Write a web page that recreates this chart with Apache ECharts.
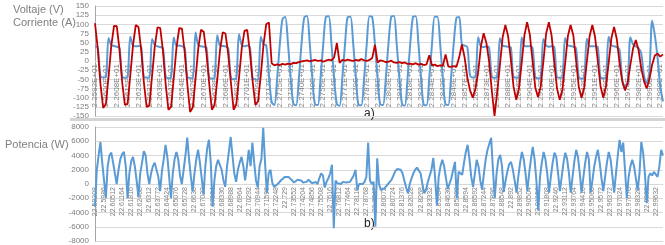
<!DOCTYPE html>
<html>
<head>
<meta charset="utf-8">
<script src="https://cdn.jsdelivr.net/npm/echarts@6/dist/echarts.min.js"></script>
<style>
  html, body { margin: 0; padding: 0; background: #fff; }
  #chart { width: 665px; height: 245px; }
</style>
</head>
<body>
<div id="chart"></div>
<script>
// panel a) voltage (V), blue
const voltage = [
  40, 37, -42, -45, -44, 63, 43, 41,
  39, 36, -43, -46, -44, 66, 42, 40,
  41, 38, -44, -45, -46, 60, 44, 40,
  38, 35, -42, -47, -45, 64, 41, 42,
  40, 37, -45, -46, -48, 78, 43, 40,
  39, 36, -44, -48, -46, 70, 42, 41,
  40, 35, -46, -50, -47, 73, 44, 40,
  42, 37, -48, -50, -52, 66, 45, 43,
  -40, -112, -120, -50, 45, 115, 120, 48,
  -47, -117, -121, -48, 47, 119, 123, 49,
  -49, -119, -120, -46, 48, 121, 122, 47,
  -48, -118, -122, -47, 46, 120, 121, 48,
  -46, -120, -121, -49, 47, 122, 120, 46,
  -48, -119, -120, -47, 49, 121, 123, 47,
  -47, -118, -122, -48, 47, 120, 122, 48,
  -49, -120, -121, -46, 46, 121, 121, 47,
  -48, -119, -120, -47, 48, 118, 120, 45,
  42, 38, -40, -45, -44, 65, 40, 38,
  40, 36, -42, -46, -45, 62, 42, 40,
  39, 37, -44, -45, -46, 64, 41, 40,
  41, 36, -43, -47, -45, 60, 43, 39,
  40, 38, -45, -46, -44, 63, 42, 41,
  39, 35, -44, -48, -46, 61, 40, 40,
  40, 37, -45, -47, -45, 66, 43, 40,
  38, 30, -50, -70, -60, 65, 45, 40,
  35, 20, -40, -60, -30, 110, 70, 10,
  -70, -110
];

// panel a) current (A), red
const current = [
  103, 35, -62, -128, -118, -42, 42, 96,
  95, 32, -58, -120, -117, -38, 44, 98,
  93, 30, -60, -125, -122, -40, 40, 92,
  90, 28, -63, -133, -125, -45, 38, 90,
  88, 25, -65, -139, -126, -48, 35, 85,
  80, 22, -60, -133, -120, -50, 30, 78,
  75, 20, -58, -133, -118, -45, 35, 82,
  85, 25, -55, -120, -110, -40, 45, 100,
  105, -6, -12, -9, -11, -8, -10, -7,
  -9, -5, -6, -3, -1, 0, 2, -1,
  1, 3, 0, 2, -2, 1, 4, 2,
  10, 49, -5, 3, 1, 4, 2, 0,
  3, 1, 5, 2, 0, 3, 8, 44,
  -4, 2, 0, -3, -2, 1, -4, -5,
  -3, -6, -4, -8, -7, -9, -6, -10,
  -8, -11, -9, 16, -12, -10, -14, -12,
  -13, 18, -15, -16, -14, -16, 10, 45,
  10, -45, -80, -100, -75, -30, 40, 76,
  50, 0, -80, -150, -85, -10, 65, 98,
  68, 5, -70, -106, -75, -5, 70, 106,
  72, 0, -72, -98, -70, 0, 75, 106,
  70, -5, -75, -106, -78, -5, 68, 98,
  70, 2, -70, -100, -72, 0, 68, 98,
  66, 0, -68, -100, -70, -5, 62, 93,
  60, -5, -55, -80, -60, -10, 35, 57,
  30, -20, -55, -75, -50, -10, 15, 20,
  12, 18
];

// panel b) power (W)
const power = [
  -3200, 2000, 4000, 5900, 3000, 500, -2000,
  2500, 4000, 4400, 3000, 1500, 0,
  2000, 3500, 4200, 4500, 2500, -2000,
  1500, 3200, 3800, 2500, 500, -1800,
  1500, 3000, 4600, 4000, 1500, 0,
  1500, 2500, 3000, 3200, 1000, -1000,
  1800, 3500, 5500, 3800, 1000, -2000,
  1500, 3500, 4500, 3500, 1200, 0,
  2000, 4000, 6500, 3500, 1000, -1000,
  1500, 3500, 4800, 3000, 800, -1500,
  2500, 5000, 6200, 3000, -3200,
  500, 2500, 3400, 3650, 2000, 500, -400,
  2500, 4500, 6600, 4000, 1500, 300,
  2000, 3000, 3800, 2500, 500,
  2500, 4800, 2500, 5800, 3000, 500, -500,
  2500, 3500, 7900, 3000, -1300, 1500, 2000,
  200, -400, -300, 0, 200, 560, 800, 1000, 800,
  1000, 900, 500, 200, 300, 600, 800, 500, 200, 100,
  300, 600, 400, 100, 0, 300, 0, 800, 1500, 1200,
  -500, 300, 800, 1500, 2700, -6200, 500, 100, 200, 0,
  300, 100, 200, 0, 300, 500, 1200, 2000, -850, 0,
  200, 0, 300, 1000, 5800, 500, 0, 300, -6000, 3600,
  0, -850, -800, -600, -300, 0, 200,
  600, 1200, 1800, 2100, 2300, 2000, 1500, 500, -500, -1300,
  0, 800, 1500, 2000, 2300, 2300, 1500, 0, -1300, -800,
  300, 300, 2000, 3650, 1000, -3000, 1000, 2500, 3400, 2500, 800, -700,
  -600, 800, 2000, 3100, -2000, 1700, 1500, 1300, 3000, 4500,
  5500, 3500, 1000, -400, 1500, 3400, 2500, 500, -800, 1500,
  3500, 4800, 5000, 6500, 2000, -2000, 1500, 3500, 4100, 2500,
  -1100, 500, 1800, 2800, 3100, 2000, 500, -1200, 1000, 3000,
  4500, 3500, 1500, -1000, 1500, 3500, 5200, 3500, 500, -3700,
  1000, 3000, 4500, 3500, 1500, -1200, 1000, 3000, 4400, 3800,
  1500, -1000, 1000, 3000, 4400, 3500, 1500, -1200, 1000, 3200,
  4800, 3800, 1500, -1200, 1000, 3000, 4500, 3500, -1200, 500,
  2500, 3800, 4800, 3000, 800, -1000, 1000, 3000, 4500, 3500,
  1200, -1200, 1500, 4000, 6200, 4500, 5800, 2000, -2000, 1000,
  2500, 3400, 2500, 800, -900, 1500, 5900, 4400, 1500, -2700,
  1000, 1500, 1200, 1700, 1500, 1000, 2500, 4800, 4000
];

// tick labels
const topLabels = [
  '2.2592E+01', '2.2600E+01', '2.2608E+01', '2.2615E+01', '2.2623E+01', '2.2631E+01', '2.2639E+01', '2.2647E+01', '2.2654E+01', '2.2662E+01',
  '2.2670E+01', '2.2678E+01', '2.2686E+01', '2.2693E+01', '2.2701E+01', '2.2709E+01', '2.2717E+01', '2.2725E+01', '2.2732E+01', '2.2740E+01',
  '2.2748E+01', '2.2756E+01', '2.2764E+01', '2.2771E+01', '2.2779E+01', '2.2787E+01', '2.2795E+01', '2.2803E+01', '2.2810E+01', '2.2818E+01',
  '2.2826E+01', '2.2834E+01', '2.2842E+01', '2.2849E+01', '2.2857E+01', '2.2865E+01', '2.2873E+01', '2.2881E+01', '2.2888E+01', '2.2896E+01',
  '2.2904E+01', '2.2912E+01', '2.2920E+01', '2.2927E+01', '2.2935E+01', '2.2943E+01', '2.2951E+01', '2.2959E+01', '2.2966E+01', '2.2974E+01',
  '2.2982E+01', '2.2990E+01', '2.2998E+01'
];
const bottomLabels = [
  '22.59208', '22.5986', '22.60512', '22.61164', '22.61816', '22.62468', '22.6312', '22.63772', '22.64424', '22.65076',
  '22.65728', '22.6638', '22.67032', '22.67684', '22.68336', '22.68988', '22.6964', '22.70292', '22.70944', '22.71596',
  '22.72248', '22.729', '22.73552', '22.74204', '22.74856', '22.75508', '22.7616', '22.76812', '22.77464', '22.78116',
  '22.78768', '22.7942', '22.80072', '22.80724', '22.81376', '22.82028', '22.8268', '22.83332', '22.83984', '22.84636',
  '22.85288', '22.8594', '22.86592', '22.87244', '22.87896', '22.88548', '22.892', '22.89852', '22.90504', '22.91156',
  '22.91808', '22.9246', '22.93112', '22.93764', '22.94416', '22.95068', '22.9572', '22.96372', '22.97024', '22.97676',
  '22.98328', '22.9898', '22.99632'
];
const topStep = 4;
const bottomStep = 5;

const font = '"Liberation Sans", Arial, sans-serif';
const labelGrey = '#7f7f7f';
const gridGrey = '#d9d9d9';

const chart = echarts.init(document.getElementById('chart'));

// the category labels sit on the zero line (Excel style), so shift the axis up
const xAxisFor = (gridIndex, data, step, labels, size, zeroOffset) => ({
  type: 'category',
  gridIndex,
  data: data.map((_, i) => i),
  boundaryGap: false,
  position: 'bottom',
  offset: zeroOffset,
  axisLine: { show: true, onZero: false, lineStyle: { color: gridGrey } },
  axisTick: { show: false },
  splitLine: { show: false },
  axisLabel: {
    interval: step - 1,
    rotate: 90,
    margin: 3,
    fontSize: size,
    color: labelGrey,
    fontFamily: font,
    formatter: (v, idx) => labels[idx / step] || ''
  }
});

const yAxisFor = (gridIndex, min, max, interval) => ({
  type: 'value',
  gridIndex,
  min, max, interval,
  axisLine: { show: true, lineStyle: { color: '#a6a6a6' } },
  axisTick: { show: false },
  splitLine: { show: true, lineStyle: { color: gridGrey, width: 1 } },
  axisLabel: { fontSize: 8, color: labelGrey, fontFamily: font, margin: 6, formatter: v => String(v) }
});

chart.setOption({
  animation: false,
  grid: [
    { left: 95, top: 6, width: 568, height: 110, containLabel: false, outerBoundsMode: 'none' },
    { left: 95, top: 127, width: 568, height: 114, containLabel: false, outerBoundsMode: 'none' }
  ],
  xAxis: [
    xAxisFor(0, voltage, topStep, topLabels, 8, -55),
    xAxisFor(1, power, bottomStep, bottomLabels, 7, -57)
  ],
  yAxis: [
    yAxisFor(0, -150, 150, 25),
    yAxisFor(1, -8000, 8000, 2000)
  ],
  series: [
    {
      name: 'Voltaje', type: 'line', xAxisIndex: 0, yAxisIndex: 0,
      data: voltage, showSymbol: false, smooth: 0.3,
      lineStyle: { color: '#5b9bd5', width: 2 }
    },
    {
      name: 'Corriente', type: 'line', xAxisIndex: 0, yAxisIndex: 0,
      data: current, showSymbol: false,
      lineStyle: { color: '#c00000', width: 1.8 }
    },
    {
      name: 'Potencia', type: 'line', xAxisIndex: 1, yAxisIndex: 1,
      data: power, showSymbol: false,
      lineStyle: { color: '#5b9bd5', width: 2 }
    }
  ],
  graphic: [
    { type: 'rect', left: 70, top: 118, shape: { width: 595, height: 3 }, style: { fill: '#d4d4d4' }, silent: true },
    { type: 'text', left: 13, top: 4, style: { text: 'Voltaje (V)', font: '11px ' + font, fill: labelGrey } },
    { type: 'text', left: 13, top: 17, style: { text: 'Corriente (A)', font: '11px ' + font, fill: labelGrey } },
    { type: 'text', left: 5, top: 139, style: { text: 'Potencia (W)', font: '11px ' + font, fill: labelGrey } },
    { type: 'text', left: 364, top: 108, style: { text: 'a)', font: '12px ' + font, fill: '#222' } },
    { type: 'text', left: 364, top: 218, style: { text: 'b)', font: '12px ' + font, fill: '#222' } }
  ]
});
</script>
</body>
</html>
